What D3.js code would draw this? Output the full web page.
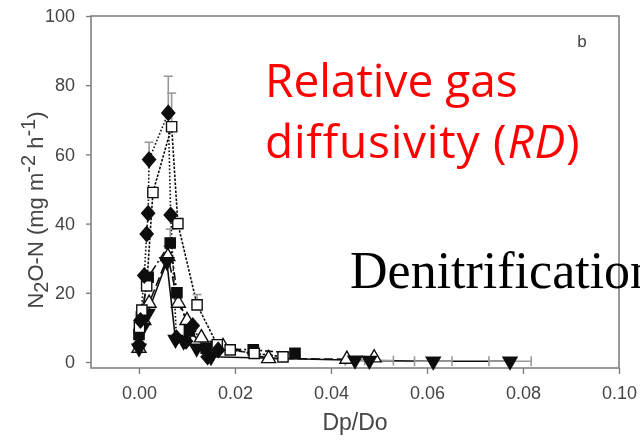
<!DOCTYPE html>
<html>
<head>
<meta charset="utf-8">
<script src="https://cdn.jsdelivr.net/npm/d3@7"></script>
<style>
  html, body { margin: 0; padding: 0; background: #fff; }
  svg { display: block; }
</style>
</head>
<body>
<svg id="chart" width="640" height="443"></svg>
<script>
// Relative gas diffusivity (Dp/Do) against N2O-N flux, one series per treatment
const xTicks = [0.00, 0.02, 0.04, 0.06, 0.08, 0.10];
const yTicks = [0, 20, 40, 60, 80, 100];

// filled diamonds, dotted line
const diamondX = [0.0000, 0.0003, 0.0011, 0.0016, 0.0019, 0.0021, 0.0061, 0.0066, 0.0078, 0.0098, 0.0112, 0.0143, 0.0165];
const diamondY = [5, 12, 25, 37, 43, 58.5, 72, 42.5, 7, 6, 10.5, 1.5, 3.5];
const diamondErr = [0, 0, 0, 0, 0, 5, 10.6, 0, 0, 0, 0, 0, 0];

// open squares, fine dotted line
const openSqX = [0.0001, 0.0006, 0.0016, 0.0029, 0.0068, 0.0081, 0.0121, 0.0163, 0.0190, 0.0240, 0.0300];
const openSqY = [10, 15, 22, 49, 68, 40, 16.5, 5, 3.5, 2.5, 1.5];
const openSqErr = [0, 0, 0, 0, 9.7, 0, 3, 0, 0, 0, 0];

// filled squares, dash-dot line
const fillSqX = [0.0000, 0.0005, 0.0019, 0.0065, 0.0079, 0.0105, 0.0140, 0.0238, 0.0325];
const fillSqY = [8, 13, 24.5, 34.4, 20, 9, 4, 3.5, 2.5];
const fillSqErr = [0, 0, 0, 4, 0, 0, 0, 0, 0];

// open triangles, long dashed line
const openTriX = [0.0000, 0.0010, 0.0021, 0.0060, 0.0082, 0.0100, 0.0130, 0.0175, 0.0270, 0.0433, 0.0490];
const openTriY = [4, 12, 17, 30.5, 17, 12, 7, 4.5, 1, 0.8, 1.2];
const openTriErr = [0, 0, 0, 3, 0, 0, 0, 0, 0, 0, 0];

// filled inverted triangles, solid line, with horizontal spread on the wide-diffusivity points
const invTriX = [0.0000, 0.0008, 0.0018, 0.0058, 0.0076, 0.0093, 0.0120, 0.0150, 0.0450, 0.0480, 0.0613, 0.0773];
const invTriY = [4, 10, 14, 29, 6.5, 6, 4, 1.5, 0.5, 0.4, 0.2, 0.2];
const invTriXErr = [0, 0, 0, 0, 0, 0, 0, 0, 0.0020, 0.0050, 0.0039, 0.0044];

const series = [
  { x: openTriX, y: openTriY, yErr: openTriErr, symbol: "triangle", filled: false, dash: "9,4" },
  { x: invTriX, y: invTriY, xErr: invTriXErr, symbol: "invTriangle", filled: true, dash: null },
  { x: fillSqX, y: fillSqY, yErr: fillSqErr, symbol: "square", filled: true, dash: "8,3,2,3" },
  { x: openSqX, y: openSqY, yErr: openSqErr, symbol: "square", filled: false, dash: "2.5,1.5" },
  { x: diamondX, y: diamondY, yErr: diamondErr, symbol: "diamond", filled: true, dash: "1.6,2" }
];

const svg = d3.select("#chart");
const frame = { left: 91, right: 619, top: 16, bottom: 368 };

const x = d3.scaleLinear().domain([0, 0.1]).range([139, 619]);
const y = d3.scaleLinear().domain([0, 100]).range([362, 16]);

const axisColor = "#7a7a7a";
const labelColor = "#444";

// the printed figure is slightly soft
svg.append("defs").append("filter").attr("id", "soft")
  .append("feGaussianBlur").attr("stdDeviation", 0.55);

const chart = svg.append("g").attr("filter", "url(#soft)");

// plot frame
chart.append("rect")
  .attr("x", frame.left).attr("y", frame.top)
  .attr("width", frame.right - frame.left).attr("height", frame.bottom - frame.top)
  .attr("fill", "none").attr("stroke", axisColor).attr("stroke-width", 1.5);

// axes
const yAxis = chart.append("g")
  .attr("transform", `translate(${frame.left},0)`)
  .call(d3.axisLeft(y).tickValues(yTicks).tickSize(5).tickPadding(11).tickFormat(d3.format("d")));
const xAxis = chart.append("g")
  .attr("transform", `translate(0,${frame.bottom})`)
  .call(d3.axisBottom(x).tickValues(xTicks).tickSize(6).tickPadding(12).tickFormat(d3.format(".2f")));
[yAxis, xAxis].forEach(g => {
  g.select(".domain").remove();
  g.selectAll(".tick line").attr("stroke", axisColor).attr("stroke-width", 1.3);
  g.selectAll(".tick text")
    .attr("fill", labelColor)
    .style("font-family", "'Liberation Sans', Arial, sans-serif")
    .style("font-size", "18px");
});

// axis titles
chart.append("text")
  .attr("x", 355).attr("y", 430)
  .attr("text-anchor", "middle")
  .attr("fill", labelColor)
  .style("font-family", "'Liberation Sans', Arial, sans-serif")
  .style("font-size", "23px")
  .text("Dp/Do");

const yTitle = chart.append("text")
  .attr("transform", "translate(43,210) rotate(-90)")
  .attr("text-anchor", "middle")
  .attr("fill", labelColor)
  .style("font-family", "'Liberation Sans', Arial, sans-serif")
  .style("font-size", "22px");
yTitle.append("tspan").text("N");
yTitle.append("tspan").attr("dy", 5).style("font-size", "20px").text("2");
yTitle.append("tspan").attr("dy", -5).text("O-N (mg m");
yTitle.append("tspan").attr("dy", -8).style("font-size", "20px").text("-2");
yTitle.append("tspan").attr("dy", 8).text(" h");
yTitle.append("tspan").attr("dy", -8).style("font-size", "20px").text("-1");
yTitle.append("tspan").attr("dy", 8).text(")");

// panel letter
chart.append("text")
  .attr("x", 582).attr("y", 47)
  .attr("text-anchor", "middle")
  .attr("fill", "#444")
  .style("font-family", "'Liberation Sans', Arial, sans-serif")
  .style("font-size", "17px")
  .text("b");

// data layer
const plot = chart.append("g");

const diamondShape = "M0,-7.5L6.5,0L0,7.5L-6.5,0Z";
const symbolPath = {
  diamond: diamondShape,
  square: d3.symbol().type(d3.symbolSquare).size(105)(),
  triangle: d3.symbol().type(d3.symbolTriangle).size(85)(),
  invTriangle: d3.symbol().type(d3.symbolTriangle).size(85)()
};

const line = d3.line().x(d => x(d[0])).y(d => y(d[1]));

series.forEach(s => {
  const pts = s.x.map((v, i) => [v, s.y[i]]);
  plot.append("path")
    .datum(pts)
    .attr("d", line)
    .attr("fill", "none")
    .attr("stroke", "#111")
    .attr("stroke-width", 1.6)
    .attr("stroke-dasharray", s.dash);
});

// error bars
series.forEach(s => {
  s.x.forEach((v, i) => {
    const ey = s.yErr ? s.yErr[i] : 0;
    const ex = s.xErr ? s.xErr[i] : 0;
    const cx = x(v), cy = y(s.y[i]);
    if (ey > 0) {
      const ty = y(s.y[i] + ey);
      plot.append("line").attr("x1", cx).attr("x2", cx).attr("y1", cy).attr("y2", ty)
        .attr("stroke", "#999").attr("stroke-width", 1.6);
      plot.append("line").attr("x1", cx - 4.5).attr("x2", cx + 4.5).attr("y1", ty).attr("y2", ty)
        .attr("stroke", "#999").attr("stroke-width", 1.6);
    }
    if (ex > 0) {
      const lx = x(v - ex), rx = x(v + ex);
      plot.append("line").attr("x1", lx).attr("x2", rx).attr("y1", cy).attr("y2", cy)
        .attr("stroke", "#999").attr("stroke-width", 1.6);
      [lx, rx].forEach(px => plot.append("line")
        .attr("x1", px).attr("x2", px).attr("y1", cy - 5).attr("y2", cy + 5)
        .attr("stroke", "#999").attr("stroke-width", 1.6));
    }
  });
});

// markers
series.forEach(s => {
  s.x.forEach((v, i) => {
    plot.append("path")
      .attr("d", symbolPath[s.symbol])
      .attr("transform", `translate(${x(v)},${y(s.y[i])})${s.symbol === "invTriangle" ? " rotate(180)" : ""}`)
      .attr("fill", s.filled ? "#111" : "#fff")
      .attr("stroke", "#111")
      .attr("stroke-width", 1.4);
  });
});

// annotations laid over the chart
const red = svg.append("text")
  .attr("fill", "#ff0000")
  .style("font-family", "'Open Sans', sans-serif")
  .style("font-size", "46px");
red.append("tspan").attr("x", 265).attr("y", 97).text("Relative gas");
const line2 = svg.append("text")
  .attr("fill", "#ff0000")
  .style("font-family", "'Open Sans', sans-serif")
  .style("font-size", "46px")
  .style("letter-spacing", "0.8px");
line2.append("tspan").attr("x", 265).attr("y", 158).text("diffusivity (");
line2.append("tspan").style("font-style", "italic").text("RD");
line2.append("tspan").text(")");

svg.append("text")
  .attr("x", 350).attr("y", 288)
  .attr("fill", "#000")
  .style("font-family", "'Liberation Serif', 'Times New Roman', serif")
  .style("font-size", "52px")
  .text("Denitrification");
</script>
</body>
</html>
